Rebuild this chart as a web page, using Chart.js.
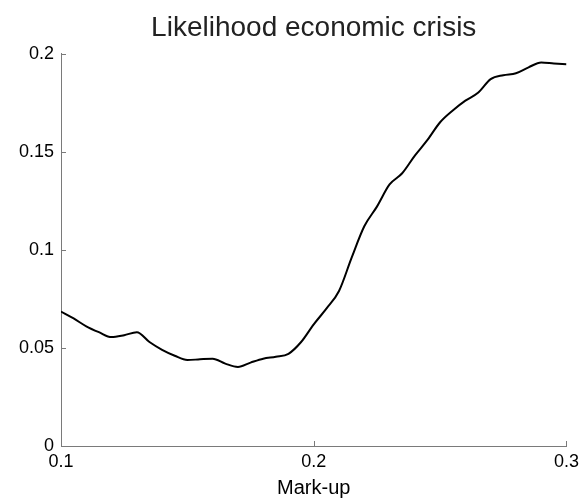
<!DOCTYPE html>
<html>
<head>
<meta charset="utf-8">
<title>Likelihood economic crisis</title>
<script src="https://cdn.jsdelivr.net/npm/chart.js@4/dist/chart.umd.min.js"></script>
<style>
  html, body { margin: 0; padding: 0; background: #ffffff; }
  canvas { display: block; }
</style>
</head>
<body>
<canvas id="chart" width="584" height="501"></canvas>
<script>
// Mark-up values (x) and the estimated likelihood of an economic crisis (y)
const markup = [
  0.100, 0.105, 0.110, 0.115, 0.120, 0.125, 0.130, 0.135, 0.140, 0.145,
  0.150, 0.155, 0.160, 0.165, 0.170, 0.175, 0.180, 0.185, 0.190, 0.195,
  0.200, 0.205, 0.210, 0.215, 0.220, 0.225, 0.230, 0.235, 0.240, 0.245,
  0.250, 0.255, 0.260, 0.265, 0.270, 0.275, 0.280, 0.285, 0.290, 0.295,
  0.300
];
const likelihood = [
  0.0685, 0.0650, 0.0610, 0.0580, 0.0555, 0.0565, 0.0580, 0.0530, 0.0490, 0.0460,
  0.0438, 0.0442, 0.0445, 0.0420, 0.0403, 0.0425, 0.0445, 0.0455, 0.0470, 0.0530,
  0.0620, 0.0700, 0.0790, 0.0960, 0.1120, 0.1220, 0.1333, 0.1390, 0.1480, 0.1560,
  0.1650, 0.1710, 0.1760, 0.1800, 0.1870, 0.1890, 0.1900, 0.1930, 0.1955, 0.1950,
  0.1946
];

const xTicks = [0.1, 0.2, 0.3];
const xTickLabels = ['0.1', '0.2', '0.3'];
const yTicks = [0, 0.05, 0.1, 0.15, 0.2];
const yTickLabels = ['0', '0.05', '0.1', '0.15', '0.2'];

const AXIS_COLOR = '#7a7a7a';
const FONT = '"Liberation Sans", Arial, Helvetica, sans-serif';

// Center the title over the plot area rather than the whole canvas
const titleOverPlot = {
  id: 'titleOverPlot',
  afterLayout(chart) {
    const t = chart.titleBlock;
    if (!t) return;
    t.left = chart.chartArea.left;
    t.right = chart.chartArea.right;
    t.width = t.right - t.left;
  }
};

// Short tick marks pointing into the plot area
const inwardTicks = {
  id: 'inwardTicks',
  afterDatasetsDraw(chart) {
    const { ctx, chartArea, scales } = chart;
    ctx.save();
    ctx.strokeStyle = AXIS_COLOR;
    ctx.lineWidth = 1;
    ctx.beginPath();
    xTicks.forEach(v => {
      const px = Math.round(scales.x.getPixelForValue(v)) + 0.5;
      ctx.moveTo(px, chartArea.bottom);
      ctx.lineTo(px, chartArea.bottom - 5);
    });
    yTicks.forEach(v => {
      const py = Math.round(scales.y.getPixelForValue(v)) + 0.5;
      ctx.moveTo(chartArea.left, py);
      ctx.lineTo(chartArea.left + 5, py);
    });
    ctx.stroke();
    ctx.restore();
  }
};

new Chart(document.getElementById('chart'), {
  type: 'line',
  data: {
    datasets: [{
      data: markup.map((m, i) => ({ x: m, y: likelihood[i] })),
      borderColor: '#000000',
      borderWidth: 2,
      pointRadius: 0,
      cubicInterpolationMode: 'monotone',
      fill: false
    }]
  },
  options: {
    responsive: false,
    animation: false,
    layout: { padding: { left: 0, right: 17, top: 0, bottom: 0 } },
    plugins: {
      legend: { display: false },
      tooltip: { enabled: false },
      title: {
        display: true,
        text: 'Likelihood economic crisis',
        color: '#222222',
        font: { family: FONT, size: 28, weight: 'normal', lineHeight: 1.2 },
        padding: { top: 11, bottom: 9 }
      }
    },
    scales: {
      x: {
        type: 'linear',
        min: 0.1,
        max: 0.3,
        afterBuildTicks: s => { s.ticks = xTicks.map(v => ({ value: v })); },
        afterFit: s => { s.height = 55; },
        grid: { display: false, drawTicks: false },
        border: { display: true, color: AXIS_COLOR, width: 1 },
        ticks: {
          color: '#000000',
          padding: 5,
          maxRotation: 0,
          font: { family: FONT, size: 18 },
          callback: v => xTickLabels[xTicks.indexOf(v)]
        },
        title: {
          display: true,
          text: 'Mark-up',
          color: '#000000',
          font: { family: FONT, size: 20 },
          padding: { top: 0, bottom: 1 }
        }
      },
      y: {
        type: 'linear',
        min: 0,
        max: 0.2,
        afterBuildTicks: s => { s.ticks = yTicks.map(v => ({ value: v })); },
        afterFit: s => { s.width = 61; },
        grid: { display: false, drawTicks: false },
        border: { display: true, color: AXIS_COLOR, width: 1 },
        ticks: {
          color: '#000000',
          padding: 7,
          font: { family: FONT, size: 18 },
          callback: v => yTickLabels[yTicks.indexOf(v)]
        }
      }
    }
  },
  plugins: [titleOverPlot, inwardTicks]
});
</script>
</body>
</html>
